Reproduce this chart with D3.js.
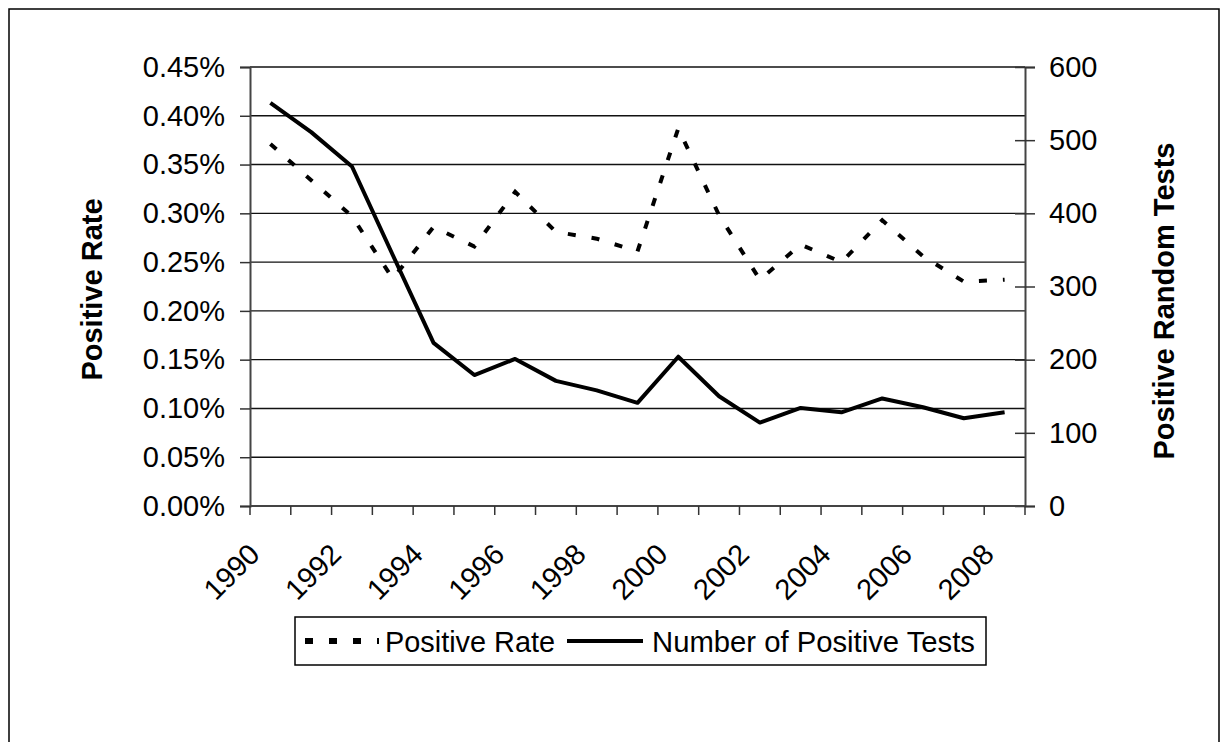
<!DOCTYPE html>
<html>

<head>
    <title>positive tests</title>
    <script src="https://d3js.org/d3.v7.min.js"></script>
    <style>
        html, body { margin: 0; padding: 0; background: #fff; overflow: hidden; }
        svg { display: block; }
        text { font-family: Arial, 'Liberation Sans', sans-serif; fill: #000; }
    </style>
</head>

<body>
    <svg width="1227" height="742" id="mainsvg"></svg>
    <script>
        // data
        const years = d3.range(1990, 2009);
        const rateValues = [0.00371, 0.00334, 0.00297, 0.00233, 0.00286, 0.00266, 0.00322, 0.00281, 0.00274, 0.00261,
            0.00387, 0.00298, 0.00232, 0.00268, 0.00250, 0.00293, 0.00256, 0.00230, 0.00232];
        const countValues = [551, 511, 464, 343, 223, 179, 201, 171, 158, 141,
            204, 150, 114, 134, 128, 147, 135, 120, 128];
        const leftTicks = [0, 0.0005, 0.001, 0.0015, 0.002, 0.0025, 0.003, 0.0035, 0.004, 0.0045];
        const rightTicks = [0, 100, 200, 300, 400, 500, 600];
        const yearLabels = [1990, 1992, 1994, 1996, 1998, 2000, 2002, 2004, 2006, 2008];
        const seriesNames = ['Positive Rate', 'Number of Positive Tests'];

        let svg = d3.select('#mainsvg');
        const margin = { top: 67, left: 250 };
        const innerWidth = 775, innerHeight = 439;

        // right-align / centre texts by measuring them, anchors kept at start
        const shiftBy = (sel, frac) => sel.each(function () {
            const w = this.getComputedTextLength();
            d3.select(this).attr('x', +(d3.select(this).attr('x') || 0) - w * frac);
        });

        // outer chart frame (bottom edge falls below the window)
        svg.append('path')
            .attr('d', 'M9,742V9H1219V742')
            .attr('fill', 'none')
            .attr('stroke', '#000')
            .attr('stroke-width', 1.5);

        const g = svg.append('g').attr('id', 'maingroup')
            .attr('transform', `translate(${margin.left},${margin.top})`);

        const x = d3.scaleBand().domain(years).range([0, innerWidth]);
        const yLeft = d3.scaleLinear().domain([0, 0.0045]).range([innerHeight, 0]);
        const yRight = d3.scaleLinear().domain([0, 600]).range([innerHeight, 0]);

        // gridlines
        g.selectAll('.grid').data(leftTicks.slice(1))
            .enter().append('line')
            .attr('class', 'grid')
            .attr('x1', 0).attr('x2', innerWidth)
            .attr('y1', d => yLeft(d)).attr('y2', d => yLeft(d))
            .attr('stroke', '#111')
            .attr('stroke-width', 1.4);

        // left axis
        const leftAxis = g.append('g')
            .call(d3.axisLeft(yLeft).tickValues(leftTicks).tickFormat(d3.format('.2%')).tickSize(10).tickPadding(15));
        // right axis
        const rightAxis = g.append('g')
            .attr('transform', `translate(${innerWidth},0)`)
            .call(d3.axisRight(yRight).tickValues(rightTicks).tickSize(10).tickPadding(14));
        rightAxis.selectAll('.tick line').attr('x1', -10);

        [leftAxis, rightAxis].forEach(a => {
            a.attr('text-anchor', null);
            a.select('.domain').attr('stroke', '#444').attr('stroke-width', 2);
            a.selectAll('.tick line').attr('stroke', '#333').attr('stroke-width', 1.5);
            a.selectAll('.tick text').style('font-size', '29px')
                .attr('text-anchor', 'start')
                .style('font-family', 'Arial, Liberation Sans, sans-serif').attr('fill', '#000');
        });
        shiftBy(leftAxis.selectAll('.tick text'), 1);

        // bottom axis: tick marks between categories
        const bottomAxis = g.append('g')
            .attr('transform', `translate(0,${innerHeight})`);
        bottomAxis.append('line')
            .attr('x1', 0).attr('x2', innerWidth)
            .attr('stroke', '#444').attr('stroke-width', 2);
        bottomAxis.selectAll('.bt').data(years.concat([2009]))
            .enter().append('line')
            .attr('class', 'bt')
            .attr('x1', d => d === 2009 ? innerWidth : x(d))
            .attr('x2', d => d === 2009 ? innerWidth : x(d))
            .attr('y1', 0).attr('y2', 9)
            .attr('stroke', '#333').attr('stroke-width', 1.5);
        const yearText = bottomAxis.selectAll('.yl').data(yearLabels)
            .enter().append('text')
            .attr('class', 'yl')
            .attr('transform', d => `translate(${x(d) + x.bandwidth() / 2 - 9},50) rotate(-45)`)
            .style('font-size', '29px')
            .text(d => d);
        shiftBy(yearText, 1);

        // lines
        const rateLine = d3.line()
            .x((d, i) => x(years[i]) + x.bandwidth() / 2)
            .y(d => yLeft(d));
        const countLine = d3.line()
            .x((d, i) => x(years[i]) + x.bandwidth() / 2)
            .y(d => yRight(d));

        g.append('path').datum(rateValues)
            .attr('d', rateLine)
            .attr('fill', 'none')
            .attr('stroke', '#000')
            .attr('stroke-width', 4)
            .attr('stroke-dasharray', '8,16');
        g.append('path').datum(countValues)
            .attr('d', countLine)
            .attr('fill', 'none')
            .attr('stroke', '#000')
            .attr('stroke-width', 4)
            .attr('stroke-linejoin', 'round');

        // axis titles
        const leftTitle = svg.append('text')
            .attr('transform', `translate(102,${margin.top + innerHeight / 2 + 3}) rotate(-90)`)
            .style('font-size', '29px').style('font-weight', 'bold')
            .text('Positive Rate');
        const rightTitle = svg.append('text')
            .attr('transform', `translate(1174,301) rotate(-90)`)
            .style('font-size', '29px').style('font-weight', 'bold')
            .text('Positive Random Tests');
        shiftBy(leftTitle, 0.5);
        shiftBy(rightTitle, 0.5);

        // legend
        const legend = svg.append('g').attr('transform', 'translate(295,617)');
        legend.append('rect')
            .attr('width', 691).attr('height', 48)
            .attr('fill', '#fff')
            .attr('stroke', '#000').attr('stroke-width', 1.5);
        legend.append('line')
            .attr('x1', 10).attr('x2', 84).attr('y1', 24).attr('y2', 24)
            .attr('stroke', '#000').attr('stroke-width', 6)
            .attr('stroke-dasharray', '8,16');
        legend.append('text')
            .attr('x', 90).attr('y', 35)
            .attr('textLength', 170).attr('lengthAdjust', 'spacingAndGlyphs')
            .style('font-size', '30px')
            .text(seriesNames[0]);
        legend.append('line')
            .attr('x1', 272).attr('x2', 348).attr('y1', 24).attr('y2', 24)
            .attr('stroke', '#000').attr('stroke-width', 4);
        legend.append('text')
            .attr('x', 357).attr('y', 35)
            .attr('textLength', 323).attr('lengthAdjust', 'spacingAndGlyphs')
            .style('font-size', '30px')
            .text(seriesNames[1]);
    </script>
</body>

</html>
